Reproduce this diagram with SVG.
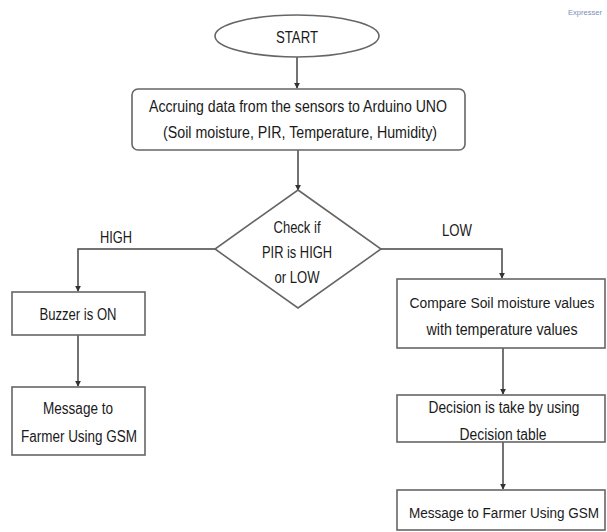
<svg xmlns="http://www.w3.org/2000/svg" width="607" height="532" viewBox="0 0 607 532">
<defs>
<style>
.shape{fill:#fff;stroke:#666;stroke-width:1.6}
.t{font-family:"Liberation Sans",Arial,sans-serif;font-size:16px;fill:#1a1a1a;text-anchor:middle}
.s{font-size:14px}
.c{fill:none;stroke:#444;stroke-width:1.5}
</style>
<marker id="ah" viewBox="0 0 8 8" refX="7" refY="4" markerWidth="6" markerHeight="6" orient="auto" markerUnits="userSpaceOnUse">
<path d="M0,0 L8,4 L0,8 z" fill="#333"/>
</marker>
</defs>
<rect width="607" height="532" fill="#fff"/>
<text x="585" y="15" style="font-family:'Liberation Sans',Arial,sans-serif;font-size:7px;fill:#7a8fb8;text-anchor:middle" textLength="34" lengthAdjust="spacingAndGlyphs">Expresser</text>

<g id="connectors">
<path class="c" d="M297,57 V88" marker-end="url(#ah)"/>
<path class="c" d="M298,150 V190" marker-end="url(#ah)"/>
<path class="c" d="M215,249 H78 V291" marker-end="url(#ah)"/>
<path class="c" d="M381,249 H502 V278" marker-end="url(#ah)"/>
<path class="c" d="M78,335 V386" marker-end="url(#ah)"/>
<path class="c" d="M503,348 V394" marker-end="url(#ah)"/>
<path class="c" d="M503,442 V489" marker-end="url(#ah)"/>
<text class="t" x="116" y="243" textLength="32" lengthAdjust="spacingAndGlyphs">HIGH</text>
<text class="t" x="457" y="236" textLength="30" lengthAdjust="spacingAndGlyphs">LOW</text>
</g>

<g id="start">
<ellipse class="shape" cx="297" cy="36" rx="82" ry="21"/>
<text class="t" x="297" y="43" textLength="42" lengthAdjust="spacingAndGlyphs">START</text>
</g>

<g id="acquire">
<rect class="shape" x="132" y="89" width="333" height="61" rx="6"/>
<text class="t" x="298" y="112" textLength="298" lengthAdjust="spacingAndGlyphs">Accruing data from the sensors to Arduino UNO</text>
<text class="t" x="300" y="138" textLength="274" lengthAdjust="spacingAndGlyphs">(Soil moisture, PIR, Temperature, Humidity)</text>
</g>

<g id="check">
<polygon class="shape" points="298,190 381,249 298,308 215,249"/>
<text class="t" x="297" y="233" textLength="47" lengthAdjust="spacingAndGlyphs">Check if</text>
<text class="t" x="297" y="258" textLength="70" lengthAdjust="spacingAndGlyphs">PIR is HIGH</text>
<text class="t" x="297" y="283" textLength="45" lengthAdjust="spacingAndGlyphs">or LOW</text>
</g>

<g id="buzzer">
<rect class="shape" x="12" y="292" width="133" height="43"/>
<text class="t" x="78" y="320" textLength="77" lengthAdjust="spacingAndGlyphs">Buzzer is ON</text>
</g>

<g id="msg-left">
<rect class="shape" x="12" y="387" width="133" height="68"/>
<text class="t" x="78" y="414" textLength="70" lengthAdjust="spacingAndGlyphs">Message to</text>
<text class="t" x="79" y="442" textLength="116" lengthAdjust="spacingAndGlyphs">Farmer Using GSM</text>
</g>

<g id="compare">
<rect class="shape" x="397" y="279" width="208" height="69"/>
<text class="t s" x="502" y="308" textLength="185" lengthAdjust="spacingAndGlyphs">Compare Soil moisture values</text>
<text class="t" x="502" y="335" textLength="151" lengthAdjust="spacingAndGlyphs">with temperature values</text>
</g>

<g id="decision">
<rect class="shape" x="397" y="395" width="208" height="47"/>
<text class="t" x="504" y="413" textLength="151" lengthAdjust="spacingAndGlyphs">Decision is take by using</text>
<text class="t" x="503" y="440" textLength="87" lengthAdjust="spacingAndGlyphs">Decision table</text>
</g>

<g id="msg-right">
<rect class="shape" x="397" y="490" width="208" height="40"/>
<text class="t s" x="504" y="518" textLength="190" lengthAdjust="spacingAndGlyphs">Message to Farmer Using GSM</text>
</g>
</svg>
